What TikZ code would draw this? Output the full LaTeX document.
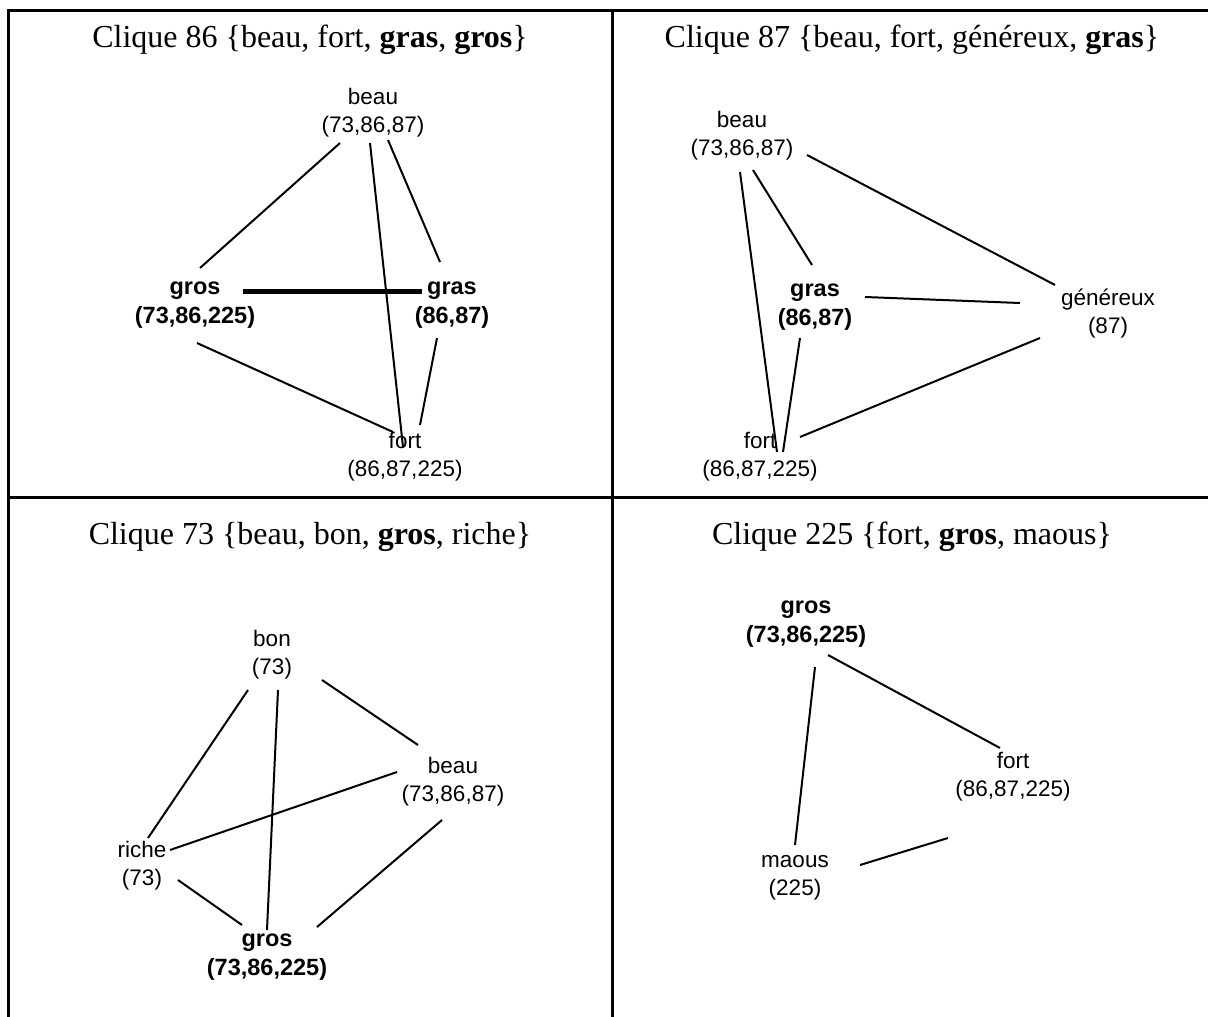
\documentclass[tikz,border=0pt]{standalone}
\usepackage{fontspec}
\setmainfont{Liberation Serif}
\newfontfamily\lbl{Liberation Sans}
\begin{document}
\begin{tikzpicture}[x=1pt,y=-1pt,
  lab/.style={font=\lbl\fontsize{22.5}{28}\selectfont, align=center, inner sep=0pt},
  blab/.style={font=\lbl\bfseries\fontsize{23.5}{29}\selectfont, align=center, inner sep=0pt},
  ttl/.style={font=\fontsize{32}{37}\selectfont, inner sep=0pt},
  edge/.style={line width=2pt},
  thick edge/.style={line width=5pt},
  frame/.style={line width=3pt}]
\useasboundingbox (0,0) rectangle (1208,1017);
% table frame
\coordinate (c1) at (8,1017);
\coordinate (c2) at (8,10);
\coordinate (c3) at (1208,10);
\coordinate (m1) at (612,10);
\coordinate (m2) at (612,1017);
\coordinate (h1) at (8,497);
\coordinate (h2) at (1208,497);
\draw[frame] (c1) -- (c2) -- (c3);
\draw[frame] (m1) -- (m2);
\draw[frame] (h1) -- (h2);

% ---------- Clique 86 ----------
\node[ttl] (t86) at (310,40) {Clique 86 \{beau, fort, \textbf{gras}, \textbf{gros}\}};
\node[lab]  (b1) at (373,113) {beau\\(73,86,87)};
\node[blab] (g1) at (195,305) {gros\\(73,86,225)};
\node[blab] (r1) at (452,305) {gras\\(86,87)};
\node[lab]  (f1) at (405,457) {fort\\(86,87,225)};
\draw[edge] ([shift={(-33,30)}]b1.center) -- ([shift={(5,-37)}]g1.center);
\draw[edge] ([shift={(-3,30)}]b1.center) -- ([shift={(-2,-10)}]f1.center);
\draw[edge] ([shift={(15,27)}]b1.center) -- ([shift={(-12,-43)}]r1.center);
\draw[thick edge] ([shift={(48,-14)}]g1.center) -- ([shift={(-30,-14)}]r1.center);
\draw[edge] ([shift={(2,38)}]g1.center) -- ([shift={(-12,-25)}]f1.center);
\draw[edge] ([shift={(-15,33)}]r1.center) -- ([shift={(15,-32)}]f1.center);

% ---------- Clique 87 ----------
\node[ttl] (t87) at (912,40) {Clique 87 \{beau, fort, généreux, \textbf{gras}\}};
\node[lab]  (b2) at (742,136) {beau\\(73,86,87)};
\node[blab] (r2) at (815,307) {gras\\(86,87)};
\node[lab]  (n2) at (1108,314) {généreux\\(87)};
\node[lab]  (f2) at (760,457) {fort\\(86,87,225)};
\draw[edge] ([shift={(-2,36)}]b2.center) -- ([shift={(17,-5)}]f2.center);
\draw[edge] ([shift={(11,34)}]b2.center) -- ([shift={(-3,-42)}]r2.center);
\draw[edge] ([shift={(65,19)}]b2.center) -- ([shift={(-53,-29)}]n2.center);
\draw[edge] ([shift={(50,-10)}]r2.center) -- ([shift={(-88,-11)}]n2.center);
\draw[edge] ([shift={(-15,31)}]r2.center) -- ([shift={(23,-5)}]f2.center);
\draw[edge] ([shift={(40,-20)}]f2.center) -- ([shift={(-68,24)}]n2.center);

% ---------- Clique 73 ----------
\node[ttl] (t73) at (310,537) {Clique 73 \{beau, bon, \textbf{gros}, riche\}};
\node[lab]  (o3) at (272,655) {bon\\(73)};
\node[lab]  (b3) at (453,782) {beau\\(73,86,87)};
\node[lab]  (c3n) at (142,866) {riche\\(73)};
\node[blab] (g3) at (267,957) {gros\\(73,86,225)};
\draw[edge] ([shift={(-24,35)}]o3.center) -- ([shift={(6,-28)}]c3n.center);
\draw[edge] ([shift={(6,35)}]o3.center) -- ([shift={(0,-27)}]g3.center);
\draw[edge] ([shift={(50,25)}]o3.center) -- ([shift={(-35,-37)}]b3.center);
\draw[edge] ([shift={(28,-16)}]c3n.center) -- ([shift={(-56,-10)}]b3.center);
\draw[edge] ([shift={(36,14)}]c3n.center) -- ([shift={(-25,-32)}]g3.center);
\draw[edge] ([shift={(-11,38)}]b3.center) -- ([shift={(50,-30)}]g3.center);

% ---------- Clique 225 ----------
\node[ttl] (t225) at (912,537) {Clique 225 \{fort, \textbf{gros}, maous\}};
\node[blab] (g4) at (806,624) {gros\\(73,86,225)};
\node[lab]  (f4) at (1013,777) {fort\\(86,87,225)};
\node[lab]  (m4) at (795,878) {maous\\(225)};
\draw[edge] ([shift={(9,43)}]g4.center) -- ([shift={(0,-33)}]m4.center);
\draw[edge] ([shift={(22,31)}]g4.center) -- ([shift={(-13,-29)}]f4.center);
\draw[edge] ([shift={(65,-13)}]m4.center) -- ([shift={(-65,61)}]f4.center);
\end{tikzpicture}
\end{document}
